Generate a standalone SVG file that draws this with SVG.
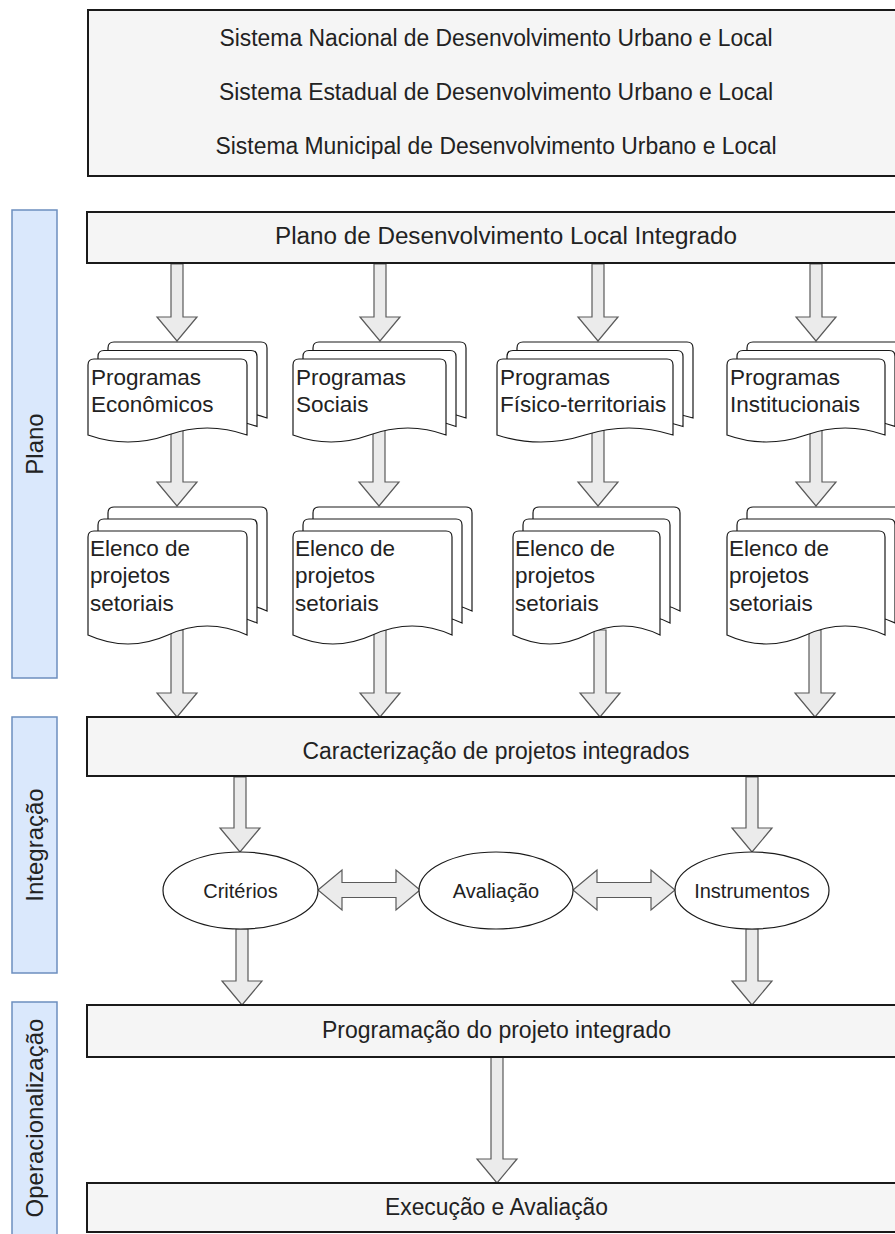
<svg xmlns="http://www.w3.org/2000/svg" width="895" height="1234" viewBox="0 0 895 1234">
  <style>
    .box { fill: #f5f5f5; stroke: #1a1a1a; stroke-width: 2; }
    .lane { fill: #dae8fc; stroke: #6c8ebf; stroke-width: 1.5; }
    .doc { fill: #ffffff; stroke: #1a1a1a; stroke-width: 1.2; }
    .ell { fill: #ffffff; stroke: #1a1a1a; stroke-width: 1.2; }
    .arrow { fill: #ebebeb; stroke: #5a5a5a; stroke-width: 1.2; stroke-linejoin: miter; }
    text { font-family: "Liberation Sans", Arial, sans-serif; fill: #222222; }
    .t23 { font-size: 23px; }
    .t22 { font-size: 22.5px; }
    .t20 { font-size: 20px; }
    .lbl { font-size: 24px; text-anchor: middle; }
    .mid { text-anchor: middle; }
  </style>

  <!-- swimlane labels -->
  <g id="lane-plano">
    <rect class="lane" x="12" y="210" width="45" height="468"/>
    <text class="lbl" transform="translate(43,444) rotate(-90)">Plano</text>
  </g>
  <g id="lane-integracao">
    <rect class="lane" x="12" y="717" width="45" height="256"/>
    <text class="lbl" transform="translate(43,845) rotate(-90)">Integração</text>
  </g>
  <g id="lane-operacionalizacao">
    <rect class="lane" x="12" y="1002" width="45" height="240"/>
    <text class="lbl" transform="translate(43,1118) rotate(-90)">Operacionalização</text>
  </g>

  <!-- connectors (block arrows) -->
  <g id="connectors">
    <!-- Plano -> Programas -->
    <path class="arrow" d="M171,264 L183,264 L183,317 L197,317 L177,341 L157,317 L171,317 Z"/>
    <path class="arrow" d="M374,264 L386,264 L386,317 L400,317 L380,341 L360,317 L374,317 Z"/>
    <path class="arrow" d="M592,264 L604,264 L604,317 L618,317 L598,341 L578,317 L592,317 Z"/>
    <path class="arrow" d="M810,264 L822,264 L822,317 L836,317 L816,341 L796,317 L810,317 Z"/>
    <!-- Programas -> Elenco -->
    <path class="arrow" d="M171,430 L183,430 L183,482 L197,482 L177,506 L157,482 L171,482 Z"/>
    <path class="arrow" d="M373,430 L385,430 L385,482 L399,482 L379,506 L359,482 L373,482 Z"/>
    <path class="arrow" d="M592,430 L604,430 L604,482 L618,482 L598,506 L578,482 L592,482 Z"/>
    <path class="arrow" d="M810,430 L822,430 L822,482 L836,482 L816,506 L796,482 L810,482 Z"/>
    <!-- Elenco -> Caracterização -->
    <path class="arrow" d="M171,630 L183,630 L183,693 L197,693 L177,717 L157,693 L171,693 Z"/>
    <path class="arrow" d="M374,630 L386,630 L386,693 L400,693 L380,717 L360,693 L374,693 Z"/>
    <path class="arrow" d="M594,630 L606,630 L606,693 L620,693 L600,717 L580,693 L594,693 Z"/>
    <path class="arrow" d="M809,630 L821,630 L821,693 L835,693 L815,717 L795,693 L809,693 Z"/>
    <!-- Caracterização -> Critérios / Instrumentos -->
    <path class="arrow" d="M234,777 L246,777 L246,828 L260,828 L240,852 L220,828 L234,828 Z"/>
    <path class="arrow" d="M746,777 L758,777 L758,828 L772,828 L752,852 L732,828 L746,828 Z"/>
    <!-- Critérios <-> Avaliação <-> Instrumentos -->
    <path class="arrow" d="M318,890 L342,870 L342,882.5 L396,882.5 L396,870 L420,890 L396,910 L396,897.5 L342,897.5 L342,910 Z"/>
    <path class="arrow" d="M573,890 L597,870 L597,882.5 L651,882.5 L651,870 L675,890 L651,910 L651,897.5 L597,897.5 L597,910 Z"/>
    <!-- Critérios / Instrumentos -> Programação -->
    <path class="arrow" d="M236,929 L248,929 L248,981 L262,981 L242,1005 L222,981 L236,981 Z"/>
    <path class="arrow" d="M746,929 L758,929 L758,981 L772,981 L752,1005 L732,981 L746,981 Z"/>
    <!-- Programação -> Execução -->
    <path class="arrow" d="M491,1057 L503,1057 L503,1159 L517,1159 L497,1183 L477,1159 L491,1159 Z"/>
  </g>

  <!-- top box: systems -->
  <g id="sistemas">
    <rect class="box" x="88" y="10" width="830" height="166"/>
    <text class="t23 mid" x="496" y="46" textLength="553" lengthAdjust="spacingAndGlyphs">Sistema Nacional de Desenvolvimento Urbano e Local</text>
    <text class="t23 mid" x="496" y="100" textLength="554" lengthAdjust="spacingAndGlyphs">Sistema Estadual de Desenvolvimento Urbano e Local</text>
    <text class="t23 mid" x="496" y="154" textLength="561" lengthAdjust="spacingAndGlyphs">Sistema Municipal de Desenvolvimento Urbano e Local</text>
  </g>

  <g id="plano-integrado">
    <rect class="box" x="87" y="212" width="830" height="51"/>
    <text class="t23 mid" x="506" y="244" textLength="462" lengthAdjust="spacingAndGlyphs">Plano de Desenvolvimento Local Integrado</text>
  </g>

  <!-- program stacks -->
  <g id="prog-economicos">
    <path class="doc" d="M108,418 L108,348 Q108,342 114,342 L261,342 Q267,342 267,348 L267,418 Q227,404 188,418 Q148,432 108,418 Z"/>
    <path class="doc" d="M98,426.5 L98,356.5 Q98,350.5 104,350.5 L251,350.5 Q257,350.5 257,356.5 L257,426.5 Q217,412.5 178,426.5 Q138,440.5 98,426.5 Z"/>
    <path class="doc" d="M88,435 L88,365 Q88,359 94,359 L241,359 Q247,359 247,365 L247,435 Q207,421 168,435 Q128,449 88,435 Z"/>
    <text class="t22" x="91" y="385">Programas</text>
    <text class="t22" x="91" y="412">Econômicos</text>
  </g>
  <g id="prog-sociais">
    <path class="doc" d="M313,418 L313,348 Q313,342 319,342 L460,342 Q466,342 466,348 L466,418 Q428,404 389.5,418 Q351,432 313,418 Z"/>
    <path class="doc" d="M303,426.5 L303,356.5 Q303,350.5 309,350.5 L450,350.5 Q456,350.5 456,356.5 L456,426.5 Q418,412.5 379.5,426.5 Q341,440.5 303,426.5 Z"/>
    <path class="doc" d="M293,435 L293,365 Q293,359 299,359 L440,359 Q446,359 446,365 L446,435 Q408,421 369.5,435 Q331,449 293,435 Z"/>
    <text class="t22" x="296" y="385">Programas</text>
    <text class="t22" x="296" y="412">Sociais</text>
  </g>
  <g id="prog-fisico">
    <path class="doc" d="M517,418 L517,348 Q517,342 523,342 L687,342 Q693,342 693,348 L693,418 Q649,404 605,418 Q561,432 517,418 Z"/>
    <path class="doc" d="M507,426.5 L507,356.5 Q507,350.5 513,350.5 L677,350.5 Q683,350.5 683,356.5 L683,426.5 Q639,412.5 595,426.5 Q551,440.5 507,426.5 Z"/>
    <path class="doc" d="M497,435 L497,365 Q497,359 503,359 L667,359 Q673,359 673,365 L673,435 Q629,421 585,435 Q541,449 497,435 Z"/>
    <text class="t22" x="500" y="385">Programas</text>
    <text class="t22" x="500" y="412">Físico-territoriais</text>
  </g>
  <g id="prog-institucionais">
    <path class="doc" d="M747,418 L747,348 Q747,342 753,342 L899,342 Q905,342 905,348 L905,418 Q865,404 826,418 Q786,432 747,418 Z"/>
    <path class="doc" d="M737,426.5 L737,356.5 Q737,350.5 743,350.5 L889,350.5 Q895,350.5 895,356.5 L895,426.5 Q855,412.5 816,426.5 Q776,440.5 737,426.5 Z"/>
    <path class="doc" d="M727,435 L727,365 Q727,359 733,359 L879,359 Q885,359 885,365 L885,435 Q845,421 806,435 Q766,449 727,435 Z"/>
    <text class="t22" x="730" y="385">Programas</text>
    <text class="t22" x="730" y="412">Institucionais</text>
  </g>

  <!-- sectoral project stacks -->
  <g id="elenco-1">
    <path class="doc" d="M108,611 L108,513 Q108,507 114,507 L261,507 Q267,507 267,513 L267,611 Q227,593 188,611 Q148,629 108,611 Z"/>
    <path class="doc" d="M98,623 L98,525 Q98,519 104,519 L251,519 Q257,519 257,525 L257,623 Q217,605 178,623 Q138,641 98,623 Z"/>
    <path class="doc" d="M88,635 L88,537 Q88,531 94,531 L241,531 Q247,531 247,537 L247,635 Q207,617 168,635 Q128,653 88,635 Z"/>
    <text class="t22" x="90" y="556">Elenco de</text>
    <text class="t22" x="90" y="583">projetos</text>
    <text class="t22" x="90" y="611">setoriais</text>
  </g>
  <g id="elenco-2">
    <path class="doc" d="M313,611 L313,513 Q313,507 319,507 L466,507 Q472,507 472,513 L472,611 Q432,593 392.5,611 Q353,629 313,611 Z"/>
    <path class="doc" d="M303,623 L303,525 Q303,519 309,519 L456,519 Q462,519 462,525 L462,623 Q422,605 382.5,623 Q343,641 303,623 Z"/>
    <path class="doc" d="M293,635 L293,537 Q293,531 299,531 L446,531 Q452,531 452,537 L452,635 Q412,617 372.5,635 Q333,653 293,635 Z"/>
    <text class="t22" x="295" y="556">Elenco de</text>
    <text class="t22" x="295" y="583">projetos</text>
    <text class="t22" x="295" y="611">setoriais</text>
  </g>
  <g id="elenco-3">
    <path class="doc" d="M533,611 L533,513 Q533,507 539,507 L674,507 Q680,507 680,513 L680,611 Q643,593 606.5,611 Q570,629 533,611 Z"/>
    <path class="doc" d="M523,623 L523,525 Q523,519 529,519 L664,519 Q670,519 670,525 L670,623 Q633,605 596.5,623 Q560,641 523,623 Z"/>
    <path class="doc" d="M513,635 L513,537 Q513,531 519,531 L654,531 Q660,531 660,537 L660,635 Q623,617 586.5,635 Q550,653 513,635 Z"/>
    <text class="t22" x="515" y="556">Elenco de</text>
    <text class="t22" x="515" y="583">projetos</text>
    <text class="t22" x="515" y="611">setoriais</text>
  </g>
  <g id="elenco-4">
    <path class="doc" d="M747,611 L747,513 Q747,507 753,507 L899,507 Q905,507 905,513 L905,611 Q865,593 826,611 Q786,629 747,611 Z"/>
    <path class="doc" d="M737,623 L737,525 Q737,519 743,519 L889,519 Q895,519 895,525 L895,623 Q855,605 816,623 Q776,641 737,623 Z"/>
    <path class="doc" d="M727,635 L727,537 Q727,531 733,531 L879,531 Q885,531 885,537 L885,635 Q845,617 806,635 Q766,653 727,635 Z"/>
    <text class="t22" x="729" y="556">Elenco de</text>
    <text class="t22" x="729" y="583">projetos</text>
    <text class="t22" x="729" y="611">setoriais</text>
  </g>

  <g id="caracterizacao">
    <rect class="box" x="87" y="717" width="830" height="59"/>
    <text class="t23 mid" x="496" y="759" textLength="387" lengthAdjust="spacingAndGlyphs">Caracterização de projetos integrados</text>
  </g>

  <g id="criterios">
    <ellipse class="ell" cx="240.5" cy="890.5" rx="77.5" ry="38.5"/>
    <text class="t20 mid" x="240.5" y="898">Critérios</text>
  </g>
  <g id="avaliacao">
    <ellipse class="ell" cx="496" cy="890.5" rx="77" ry="38.5"/>
    <text class="t20 mid" x="496" y="898">Avaliação</text>
  </g>
  <g id="instrumentos">
    <ellipse class="ell" cx="752" cy="890.5" rx="77" ry="38.5"/>
    <text class="t20 mid" x="752" y="898">Instrumentos</text>
  </g>

  <g id="programacao">
    <rect class="box" x="87" y="1005" width="830" height="52"/>
    <text class="t23 mid" x="496.5" y="1038" textLength="349" lengthAdjust="spacingAndGlyphs">Programação do projeto integrado</text>
  </g>
  <g id="execucao">
    <rect class="box" x="87" y="1183" width="830" height="49"/>
    <text class="t23 mid" x="496.5" y="1215" textLength="223" lengthAdjust="spacingAndGlyphs">Execução e Avaliação</text>
  </g>
</svg>
